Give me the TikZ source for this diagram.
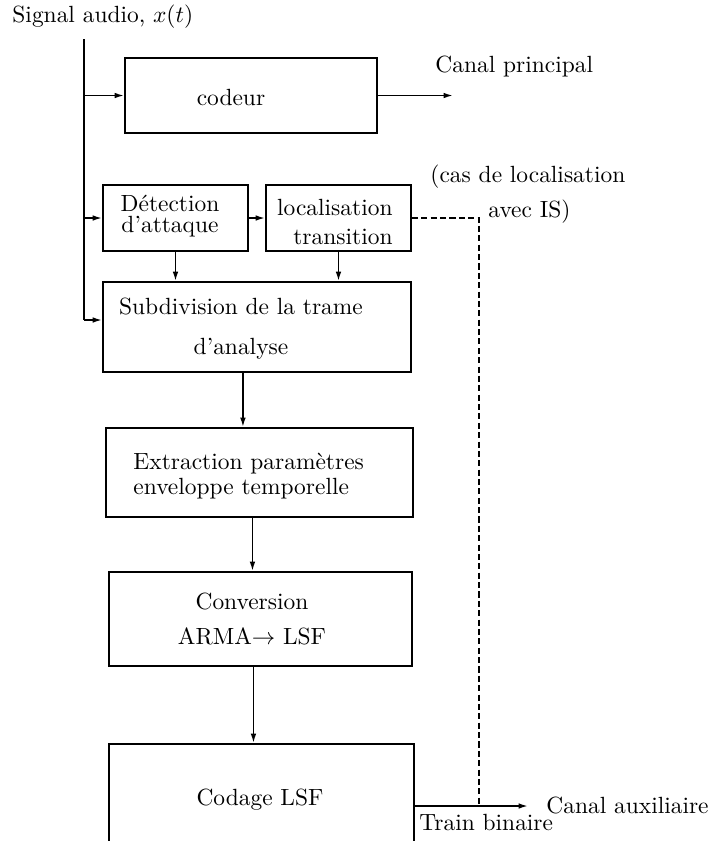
\documentclass[tikz,border=0pt]{standalone}
\usetikzlibrary{arrows.meta,positioning}

% one unit of the picture
\def\pxu{0.4268pt}

\tikzset{
  bloc/.style={draw, line width=0.8pt, inner sep=0pt},
  txt/.style={inner sep=0pt},
  liaison/.style={line width=0.7pt},
  fleche/.style={line width=0.7pt, -{Latex[length=4pt,width=2.4pt]}},
  pointille/.style={line width=0.8pt, dash pattern=on 2.6pt off 1.4pt},
}

\begin{document}
\begin{tikzpicture}[x=0.015cm, y=-0.015cm]
        \useasboundingbox (0,0) rectangle (712,841);
        \clip (0,0) rectangle (712,841);
        % Blocks
        \node [bloc, minimum width=252*\pxu, minimum height=75*\pxu] (codeur) at (251,95.5) {};
        \node [bloc, minimum width=145*\pxu, minimum height=66*\pxu] (detect) at (175.5,218) {};
        \node [bloc, minimum width=145*\pxu, minimum height=66*\pxu] (local) at (338.5,218) {};
        \node [bloc, minimum width=308*\pxu, minimum height=90*\pxu] (subdiv) at (257,327) {};
        \node [bloc, minimum width=307*\pxu, minimum height=89*\pxu] (extract) at (259.5,472.5) {};
        \node [bloc, minimum width=303*\pxu, minimum height=94*\pxu] (convert) at (260.5,619) {};
        \node [bloc, minimum width=305*\pxu, minimum height=136*\pxu] (codage) at (261.5,812) {};
        % Texts of the blocks
        \node [txt] (t-codeur) at (231,97) {codeur};
        \node [txt, align=center] (t-detect) at (170,216) {Détection\\[-3pt]d'attaque};
        \node [txt, align=right, anchor=east] (t-local) at (393,222) {localisation\\transition};
        \node [txt, align=center] (t-subdiv) at (241,329) {Subdivision de la trame\\[5pt]d'analyse};
        \node [txt, align=left, anchor=west] (t-extract) at (133,476) {Extraction paramètres\\[-1pt]enveloppe temporelle};
        \node [txt, align=center] (t-convert) at (252,619) {Conversion\\[3pt]ARMA$\rightarrow$ LSF};
        \node [txt] (t-codage) at (260,800) {Codage LSF};
        % Inputs and outputs
        \node [txt, anchor=west] (signal) at (12,17) {Signal audio, $x(t)$};
        \node [txt, anchor=west] (canalp) at (435,67) {Canal principal};
        \node [txt, anchor=west] (cas) at (430,177) {(cas de localisation};
        \node [txt, anchor=west] (avecis) at (488,212) {avec IS)};
        \node [txt, anchor=west] (canala) at (546,805) {Canal auxiliaire};
        \node [txt, anchor=west] (train) at (419,822) {Train binaire};
        \coordinate (haut) at (84,39);
        \coordinate (entree) at (84,320);
        \coordinate (sortiep) at (453,95.5);
        \coordinate (sortiea) at (528,806);
        \coordinate (coin) at (479,218);
        % Signal distribution
        \draw [liaison] (haut) -- (entree);
        \draw [fleche] (haut |- codeur.west) -- (codeur.west);
        \draw [fleche] (haut |- detect.west) -- (detect.west);
        \draw [fleche] (entree) -- (entree -| subdiv.west);
        \draw [fleche] (detect.east) -- (local.west);
        \draw [fleche] (detect.south) -- (detect.south |- subdiv.north);
        \draw [fleche] (local.south) -- (local.south |- subdiv.north);
        % Chain of blocks
        \draw [fleche] ([xshift=-6pt]subdiv.south) -- ([xshift=-6pt]subdiv.south |- extract.north);
        \draw [fleche] ([xshift=-3pt]extract.south) -- ([xshift=-3pt]extract.south |- convert.north);
        \draw [fleche] ([xshift=-3pt]convert.south) -- ([xshift=-3pt]convert.south |- codage.north);
        % Outputs
        \draw [fleche] (codeur.east) -- (sortiep);
        \draw [fleche] (codage.east |- sortiea) -- (sortiea);
        \draw [pointille] (local.east) -- (coin) -- (coin |- sortiea);
\end{tikzpicture}
\end{document}
